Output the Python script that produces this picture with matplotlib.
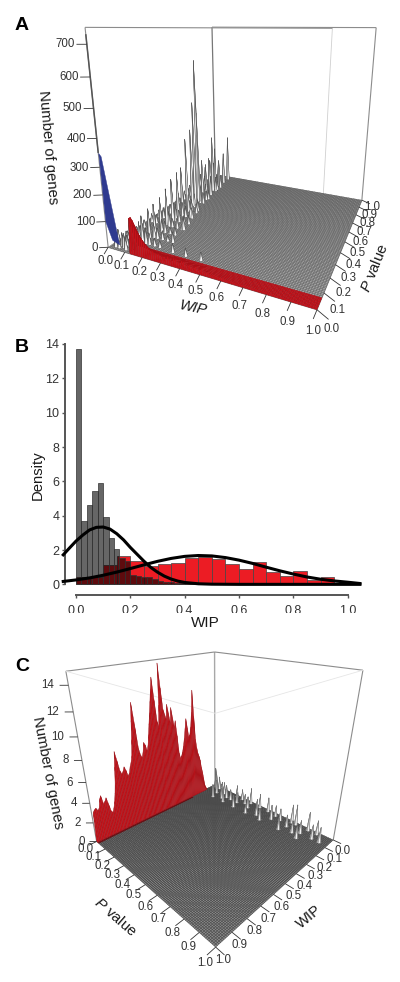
import numpy as np
import matplotlib
matplotlib.use('Agg')
import matplotlib.pyplot as plt
from matplotlib.colors import to_rgba
from mpl_toolkits.mplot3d.art3d import Poly3DCollection
from mpl_toolkits.mplot3d import proj3d

plt.rcParams['font.family'] = ['Liberation Sans', 'DejaVu Sans']
plt.rcParams['mathtext.fontset'] = 'custom'
plt.rcParams['mathtext.rm'] = 'Liberation Sans'
plt.rcParams['mathtext.it'] = 'Liberation Sans:italic'

# ---- panel A data (x = WIP, y = P value, z = number of genes)
a_z_ticks = [0, 100, 200, 300, 400, 500, 600, 700]
a_z_top = 750
a_peak_n = [350, 730]
a_blue_wip = [0, 0.012, 0.07, 0.03, 0]
a_blue_n = [350, 340, 25, 35, 100]
# red wall at P close to 0, WIP 0.13 .. 1.00
a_red_n = [130, 135, 125, 110, 95, 80, 68, 58, 50, 42, 36, 30, 34, 28, 24, 30, 22, 18, 26, 16,
           30, 22, 14, 24, 32, 18, 14, 22, 30, 16, 12, 24, 14, 10, 22, 12, 8, 26, 10, 8,
           12, 8, 6, 9, 7, 5, 6, 8, 5, 4, 6, 4, 5, 4, 3, 5, 3, 4, 3, 3,
           4, 3, 2, 3, 3, 2, 3, 2, 2, 3, 2, 2, 1, 2, 2, 1, 2, 1, 1, 2,
           1, 1, 1, 1, 1, 1, 0, 0]
a_red_back = [0.75, 0.5, 0.3, 0.15, 0.05]
# tall row of spikes
a_ridge_wip = 0.12
a_ridge_p = [.06, .08, .105, .146, .19, .24, .292, .34, .387, .433, .482, .53, .56, .587, .605, .64, .68, .72, .76, .79, .84, .90, .96]
a_ridge_n = [70, 90, 105, 115, 120, 130, 150, 175, 190, 200, 310, 340, 450, 620, 400, 180, 150, 170, 260, 200, 130, 150, 220]
# lower rows of spikes
a_row_wip = [.03, .06, .14, .16, .19, .22]
a_row_p = [.10, .16, .22, .28, .34, .40, .46, .52, .58, .64, .70, .76, .82, .88, .94]
a_row_n = [[30, 25, 30, 35, 30, 40, 35, 45, 40, 50, 60, 70, 90, 110, 130],
           [35, 30, 40, 35, 45, 40, 50, 45, 55, 50, 60, 65, 80, 100, 90],
           [60, 55, 50, 60, 70, 60, 75, 60, 80, 70, 90, 70, 60, 0, 0],
           [45, 40, 45, 35, 50, 45, 55, 40, 50, 40, 0, 0, 0, 0, 0],
           [30, 35, 25, 40, 30, 35, 40, 0, 0, 0, 0, 0, 0, 0, 0],
           [25, 20, 30, 20, 35, 0, 0, 0, 0, 0, 0, 0, 0, 0, 0]]
a_low_wip = [.03, .03, .03, .05, .05, .05, .07, .07, .07, .09, .09, .11, .11,
             .23, .20, .18, .15, .14, .25, .30, .37, .45]
a_low_p = [.02, .04, .06, .02, .04, .07, .03, .05, .08, .02, .05, .03, .06,
           .28, .40, .49, .63, .78, .16, .09, .09, .09]
a_low_n = [40, 60, 35, 30, 50, 45, 55, 40, 60, 45, 65, 50, 70,
           50, 45, 45, 40, 40, 40, 35, 30, 30]

# ---- panel B data
gray_edges = [0.00, 0.02, 0.04, 0.06, 0.08, 0.10, 0.12, 0.14, 0.16, 0.18, 0.20, 0.22, 0.24, 0.26, 0.28, 0.30, 0.32, 0.34, 0.36, 0.38, 0.40, 0.42, 0.44, 0.46, 0.48]
gray_dens = [13.7, 3.7, 4.6, 5.45, 5.9, 3.95, 2.7, 2.05, 1.55, 1.35, 0.55, 0.5, 0.4, 0.42, 0.3, 0.2, 0.15, 0.12, 0.1, 0.08, 0.06, 0.05, 0.04, 0.03, 0.02]
red_edges = [0.00, 0.05, 0.10, 0.15, 0.20, 0.25, 0.30, 0.35, 0.40, 0.45, 0.50, 0.55, 0.60, 0.65, 0.70, 0.75, 0.80, 0.85, 0.90]
red_dens = [0.45, 0.45, 1.1, 1.65, 1.35, 1.05, 1.2, 1.25, 1.55, 1.6, 1.5, 1.2, 0.9, 1.3, 0.7, 0.5, 0.8, 0.25, 0.45]
curve1_x = [-.047, -.025, 0, .025, .05, .075, .1, .125, .15, .175, .2, .225, .25, .275, .3, .325, .35, .375, .4, .45, .5, .6, 1.045]
curve1_y = [1.72, 2.1, 2.52, 2.87, 3.17, 3.32, 3.34, 3.22, 2.95, 2.59, 2.15, 1.75, 1.35, .99, .71, .48, .31, .19, .11, .034, .01, 0, 0]
curve2_x = [-.047, 0, .05, .1, .15, .2, .25, .3, .35, .4, .45, .5, .55, .6, .65, .7, .75, .8, .85, .9, .95, 1.0, 1.045]
curve2_y = [.17, .257, .376, .53, .714, .92, 1.135, 1.34, 1.51, 1.63, 1.68, 1.656, 1.56, 1.41, 1.22, 1.0, .79, .6, .43, .3, .2, .125, .05]
b_xticks = [0.0, 0.2, 0.4, 0.6, 0.8, 1.0]
b_yticks = [0, 2, 4, 6, 8, 10, 12, 14]

# ---- panel C data
c_z_ticks = [0, 2, 4, 6, 8, 10, 12, 14]
c_z_top = 15.0
# red wall at P = 0, WIP 1.00 going down to 0.09
c_red_n = [0, 3.0, 3.2, 3.3, 3.0, 3.2, 4.0, 4.3, 3.4, 3.6, 3.9, 3.2, 2.4, 2.2, 2.6, 3.2, 4.0, 5.0, 6.5, 7.9,
           7.0, 6.0, 5.6, 5.8, 6.2, 5.8, 5.2, 5.4, 6.0, 6.4, 7.0, 8.5, 10.2, 11.8, 9.8, 7.5, 6.8, 6.5, 7.0, 7.9,
           7.6, 7.0, 7.5, 8.5, 9.5, 10.5, 11.5, 12.6, 13.6, 11.5, 9.5, 9.0, 11.0, 14.7, 12.5, 10.5, 10.0, 9.5, 10.9, 10.0,
           9.0, 10.5, 9.5, 8.5, 9.1, 7.5, 5.6, 5.0, 5.2, 5.6, 6.2, 7.0, 8.0, 9.0, 8.0, 7.0, 7.2, 8.0, 9.5, 11.7,
           9.0, 6.5, 5.5, 4.8, 4.4, 3.9, 3.0, 2.4, 1.6, 0.7, 0.3, 0]
c_sp_wip = [.01, .02, .03, .02, .02, .02, .02, .02, .02, .02, .02, .02, .02, .03, .02,
            .08, .08, .08, .08, .08, .08, .08, .08, .08, .08, .08, .08,
            .14, .14, .14, .14, .14, .14, .14, .05, .05, .05, .11, .11, .11]
c_sp_p = [.02, .03, .05, .07, .10, .25, .38, .46, .53, .72, .75, .84, .90, .60, .30,
          .10, .15, .20, .24, .30, .40, .48, .60, .72, .82, .90, .95,
          .12, .22, .32, .43, .55, .70, .83, .15, .35, .65, .18, .50, .78]
c_sp_n = [2.2, 2.4, 1.8, 1.5, 1.0, 1.4, 1.8, 1.6, 1.6, 2.0, 2.2, 2.0, 1.5, 1.2, 1.2,
          1.6, 1.4, 1.5, 1.2, 1.2, 1.3, 1.5, 1.6, 1.3, 1.4, 1.5, 1.6,
          1.5, 1.2, 1.4, 1.0, 1.3, 1.2, 1.3, 1.4, 1.1, 1.3, 1.2, 1.2, 1.3]

unit_ticks = [0.0, 0.1, 0.2, 0.3, 0.4, 0.5, 0.6, 0.7, 0.8, 0.9, 1.0]

W, H = 400, 982
fig = plt.figure(figsize=(W / 100, H / 100), dpi=100)
TICK_C = '#333333'


def px_text(x, y, s, **kw):
    kw.setdefault('ha', 'center')
    kw.setdefault('va', 'center')
    kw.setdefault('color', '#1a1a1a')
    fig.text(x / W, 1 - y / H, s, **kw)


def make_3d(elev, azim, roll, focal, aspect, s, bx, dy, zmax):
    # s, bx, dy come from fitting the box corners to the picture
    side = s * 0.185
    left = bx - 0.095 * s
    bottom = dy + 0.095 * s
    ax = fig.add_axes([left / W, 1 - bottom / H, side / W, side / H], projection='3d')
    ax.set_box_aspect(aspect, zoom=1.9 / (1.8294640721620434 * 25 / 24))
    ax.view_init(elev=elev, azim=azim, roll=roll)
    ax.set_proj_type('persp', focal_length=focal)
    ax.computed_zorder = False
    ax.set_axis_off()
    ax.set_xlim(0, 1)
    ax.set_ylim(0, 1)
    ax.set_zlim(0, zmax)
    return ax


def label3(ax, x, y, z, s, **kw):
    # tick label at a 3d data position, written as plain figure text
    u, v, _ = proj3d.proj_transform(x, y, z, ax.get_proj())
    px, py = ax.transData.transform((u, v))
    kw.setdefault('ha', 'center')
    fig.text(px / W, py / H, s, va='center', fontsize=8.3, color=TICK_C, **kw)


def line3(ax, xs, ys, zs, c='#8c8c8c', lw=0.8, z=0):
    ax.plot(xs, ys, zs, color=c, lw=lw, zorder=z, clip_on=False, solid_capstyle='butt')


def surface(ax, Z, face, edge, lw):
    g = np.linspace(0, 1, Z.shape[0])
    X, Y = np.meshgrid(g, g)
    s = ax.plot_surface(X, Y, Z, rstride=1, cstride=1, facecolors=face, shade=False, zorder=1)
    s.set_edgecolor(edge.reshape(-1, 4))
    s.set_linewidth(lw)
    s.set_clip_on(False)
    return s


def raised(Z):
    return (Z[:-1, :-1] > 0) | (Z[1:, :-1] > 0) | (Z[:-1, 1:] > 0) | (Z[1:, 1:] > 0)


N = 101

# ---------------- A
axA = make_3d(15.03, -65.606, -0.106, 0.2116, [1, 1.02, 0.996], 1834.31, 250.45, 130.63, a_z_top)
Z = np.zeros((N, N))
for i, v in enumerate(a_red_n):
    Z[1, 13 + i] = v
    for k, f in enumerate(a_red_back):
        Z[2 + k, 13 + i] = v * f
for p, v in zip(a_ridge_p, a_ridge_n):
    Z[int(round(p * 100)), int(round(a_ridge_wip * 100))] = v
for w, row in zip(a_row_wip, a_row_n):
    for p, v in zip(a_row_p, row):
        if v > 0:
            Z[int(round(p * 100)), int(round(w * 100))] = v
for w, p, v in zip(a_low_wip, a_low_p, a_low_n):
    Z[int(round(p * 100)), int(round(w * 100))] = v
face = np.empty((N - 1, N - 1, 4))
edge = np.empty((N - 1, N - 1, 4))
face[:] = to_rgba('#a4a4a4')
edge[:] = to_rgba('#5e5e5e')
up = raised(Z)
face[up] = to_rgba('#f4f4f4')
edge[up] = to_rgba('#4a4a4a')
face[:7, 13:] = to_rgba('#c4121a')
edge[:7, 13:] = to_rgba('#a00f16')
surface(axA, Z, face, edge, 0.3)
axA.add_collection3d(Poly3DCollection([list(zip(a_blue_wip, [0] * len(a_blue_wip), a_blue_n))],
                                      facecolors='#2f3a8f', edgecolors='#2f3a8f', lw=0.3, zorder=2))
line3(axA, [0, 0], [0, 0], a_peak_n, c='#555555', lw=1.1, z=2)

# box
line3(axA, [0, 0], [0, 0], [0, a_z_top])
line3(axA, [0, 0], [1, 1], [0, a_z_top], c='#777777', lw=0.9)
line3(axA, [1, 1], [1, 1], [0, a_z_top])
line3(axA, [1, 1], [0, 0], [0, a_z_top], c='#d0d0d0', lw=0.6)
line3(axA, [0, 1], [0, 0], [a_z_top, a_z_top])
line3(axA, [0, 1], [1, 1], [a_z_top, a_z_top])
line3(axA, [0, 1], [0, 0], [0, 0], z=0.5)
line3(axA, [1, 1], [0, 1], [0, 0], z=0.5)
for v in a_z_ticks:
    line3(axA, [0, -0.035], [0, -0.02], [v, v], c=TICK_C, lw=0.6, z=2)
    label3(axA, -0.04, -0.022, v, str(v), ha='right')
for v in unit_ticks:
    line3(axA, [v, v + 0.025 * (1 - v)], [0, -0.05], [0, 0], c=TICK_C, lw=0.6, z=2)
    label3(axA, v + 0.068 * (1 - v) + 0.017 * v, -0.085 - 0.02 * v, 0, '%.1f' % v)
    line3(axA, [1, 1.05], [v, v - 0.03], [0, 0], c=TICK_C, lw=0.6, z=2)
    label3(axA, 1.07, v - 0.07, 0, '%.1f' % v)

px_text(48, 147, 'Number of genes', rotation=-85, fontsize=10.7)
px_text(193, 308, 'WIP', rotation=-12, fontsize=10.7, style='italic')
px_text(375, 268, r'$\mathit{P}$ value', rotation=68, fontsize=10.7)

# ---------------- B
axB = fig.add_axes([65 / W, 1 - 595 / H, (362 - 65) / W, (595 - 344) / H])
axB.bar(red_edges, red_dens, width=0.05, align='edge', color='#ec1c24', edgecolor='#444444', lw=0.5, zorder=2)
# black at 60% over red gives the dark overlap, over white the plain grey
axB.bar(gray_edges, gray_dens, width=0.02, align='edge', color=(0, 0, 0, 0.6), edgecolor='#333333', lw=0.5, zorder=3)
axB.plot(curve1_x, curve1_y, color='black', lw=2.2, zorder=4, clip_on=False)
axB.plot(curve2_x, curve2_y, color='black', lw=2.2, zorder=4, clip_on=False)
axB.set_xlim(-0.0405, 1.0526)
axB.set_ylim(-0.62, 14)
axB.spines['top'].set_visible(False)
axB.spines['right'].set_visible(False)
axB.spines['left'].set_bounds(0, 14)
axB.spines['bottom'].set_bounds(0, 1)
for sp in ['left', 'bottom']:
    axB.spines[sp].set_color('#555555')
    axB.spines[sp].set_linewidth(1.4)
axB.set_xticks(b_xticks)
axB.set_xticklabels(['%.1f' % v for v in b_xticks])
axB.set_yticks(b_yticks)
axB.tick_params(length=2.5, width=1, color='#555555', labelsize=9, labelcolor=TICK_C)
axB.tick_params(axis='x', pad=5)
axB.tick_params(axis='y', pad=1.5)
axB.patch.set_visible(False)
px_text(38, 475, 'Density', rotation=90, fontsize=10.7)
px_text(205, 623, 'WIP', fontsize=11)

# ---------------- C
axC = make_3d(25.03, 44.778, 0.137, 0.2041, [1, 0.995, 0.992], 1694.81, 214.99, 765.36, c_z_top)
Z = np.zeros((N, N))
for i, v in enumerate(c_red_n):
    Z[0, 100 - i] = v
for w, p, v in zip(c_sp_wip, c_sp_p, c_sp_n):
    Z[int(round(p * 100)), int(round(w * 100))] = v
face = np.empty((N - 1, N - 1, 4))
edge = np.empty((N - 1, N - 1, 4))
face[:] = to_rgba('#8a8a8a')
edge[:] = to_rgba('#3a3a3a')
up = raised(Z)
face[up] = to_rgba('#f0f0f0')
edge[up] = to_rgba('#6a6a6a')
face[0, 9:] = to_rgba('#c4121a')
edge[0, 9:] = to_rgba('#981218')
face[1:3, 25:] = to_rgba('#7c0f14')
edge[1:3, 25:] = to_rgba('#5c0c10')
surface(axC, Z, face, edge, 0.3)

line3(axC, [1, 1], [0, 0], [0, c_z_top])
line3(axC, [0, 0], [1, 1], [0, c_z_top])
line3(axC, [0, 0], [0, 0], [0, c_z_top], c='#a8a8a8', lw=1.0)
line3(axC, [1, 1], [1, 1], [0, c_z_top], c='#e6e6e6', lw=0.5, z=0)
line3(axC, [0, 1], [0, 0], [c_z_top, c_z_top])
line3(axC, [0, 0], [0, 1], [c_z_top, c_z_top])
line3(axC, [1, 1], [0, 1], [c_z_top, c_z_top], c='#e6e6e6', lw=0.6)
line3(axC, [0, 1], [1, 1], [c_z_top, c_z_top], c='#e6e6e6', lw=0.6)
for v in c_z_ticks:
    line3(axC, [1, 1.03], [0, -0.03], [v, v], c=TICK_C, lw=0.6, z=2)
    label3(axC, 1.05, -0.05, v, str(v), ha='right')
for v in unit_ticks:
    line3(axC, [1, 1.05], [v, v], [0, 0], c=TICK_C, lw=0.6, z=2)
    label3(axC, 1.08, v + 0.02, 0, '%.1f' % v)
    line3(axC, [v, v], [1, 1.05], [0, 0], c=TICK_C, lw=0.6, z=2)
    label3(axC, v + 0.06 - 0.04 * v, 1.09 - 0.03 * v, 0, '%.1f' % v)

px_text(48, 773, 'Number of genes', rotation=-79, fontsize=10.7)
px_text(115, 917, r'$\mathit{P}$ value', rotation=-41, fontsize=10.7)
px_text(309, 917, 'WIP', rotation=40, fontsize=10.7)

# panel letters
for lab, y in [('A', 30), ('B', 352), ('C', 671)]:
    px_text(15, y, lab, ha='left', va='baseline', fontsize=14, fontweight='bold', color='black')

fig.savefig('out.png', dpi=100)
